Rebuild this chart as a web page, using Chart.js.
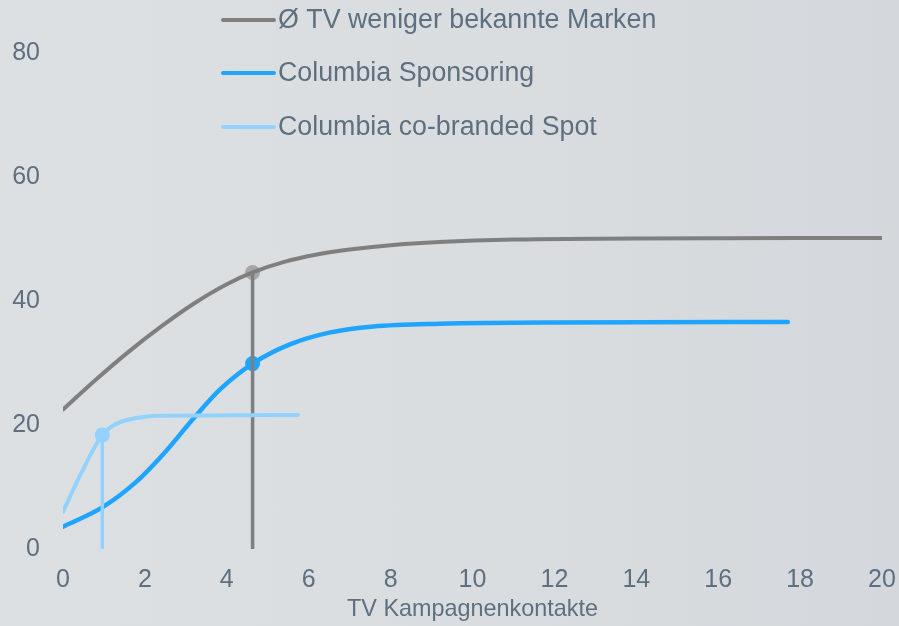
<!DOCTYPE html>
<html>
<head>
<meta charset="utf-8">
<script src="https://cdn.jsdelivr.net/npm/chart.js@4/dist/chart.umd.min.js"></script>
<style>
  html, body { margin: 0; padding: 0; }
  body { width: 899px; height: 626px; background: linear-gradient(90deg, #dde0e3 0%, #d9dde0 55%, #d4d8dc 100%); }
  #wrap { width: 899px; height: 626px; position: relative; }
</style>
</head>
<body>
<div id="wrap"><canvas id="c" width="899" height="626"></canvas></div>
<script>
// ---- data ----
const seriesNames = ["Ø TV weniger bekannte Marken", "Columbia Sponsoring", "Columbia co-branded Spot"];
const grayX = [0, 0.8, 1.6, 2.4, 3.2, 4.0, 4.63, 5.4, 6.2, 7.0, 8.0, 9.2, 11, 14, 20];
const grayY = [22.5, 27.3, 31.8, 35.9, 39.6, 42.7, 44.6, 46.3, 47.5, 48.3, 49.0, 49.5, 49.9, 50.1, 50.15];
const blueX = [0, 0.98, 1.8, 2.53, 3.18, 3.83, 4.63, 5.54, 6.5, 7.58, 9.21, 12, 17.7];
const blueY = [3.6, 6.8, 10.9, 15.9, 21.0, 25.7, 29.9, 33.0, 34.9, 35.9, 36.35, 36.55, 36.6];
const lightX = [0, 0.42, 0.96, 1.25, 1.56, 2.37, 5.74];
const lightY = [6.0, 11.9, 18.4, 20.0, 20.8, 21.5, 21.6];
const markerX = [4.63, 4.63, 0.96];
const markerY = [44.6, 29.9, 18.4];
const xTicks = [0, 2, 4, 6, 8, 10, 12, 14, 16, 18, 20];
const yTicks = [0, 20, 40, 60, 80];
const xTitle = "TV Kampagnenkontakte";

const GRAY = "#7f7f7f", GRAY_DOT = "#a6a6a6", BLUE = "#1fa5ff", LIGHT = "#93d2ff";
const TEXT = "#5e6f7f";
const FONT = "'Liberation Sans', Arial, sans-serif";

const pts = (xs, ys) => xs.map((x, i) => ({ x: x, y: ys[i] }));

const curve = (label, xs, ys, color, w) => ({
  label: label, data: pts(xs, ys), borderColor: color, backgroundColor: color,
  borderWidth: w, pointRadius: 0, pointHoverRadius: 0, cubicInterpolationMode: 'monotone',
  borderCapStyle: 'round', borderJoinStyle: 'round', fill: false
});
const vline = (i, color) => ({
  label: '_v' + i, data: [{ x: markerX[i], y: 0 }, { x: markerX[i], y: markerY[i] }],
  borderColor: color, borderWidth: 3.5, pointRadius: 0, pointHoverRadius: 0, fill: false
});
const marker = (i, color) => ({
  label: '_m' + i, data: [{ x: markerX[i], y: markerY[i] }], showLine: false,
  pointRadius: 7.5, pointHoverRadius: 7.5, pointBackgroundColor: color, pointBorderWidth: 0, borderColor: color
});

const legendPlugin = {
  id: 'customLegend',
  afterDraw(chart) {
    const ctx = chart.ctx;
    const colors = [GRAY, BLUE, LIGHT];
    const ys = [20, 73, 127];
    ctx.save();
    ctx.font = "26.8px " + FONT;
    ctx.textBaseline = 'middle';
    ctx.fillStyle = TEXT;
    seriesNames.forEach((n, i) => {
      ctx.strokeStyle = colors[i];
      ctx.lineWidth = 4;
      ctx.lineCap = 'round';
      ctx.beginPath();
      ctx.moveTo(223, ys[i]);
      ctx.lineTo(274, ys[i]);
      ctx.stroke();
      ctx.fillText(n, 278, ys[i] + 1);
    });
    ctx.restore();
  }
};

new Chart(document.getElementById('c'), {
  type: 'line',
  data: {
    datasets: [
      curve(seriesNames[2], lightX, lightY, LIGHT, 4),
      vline(0, GRAY),
      vline(2, LIGHT),
      curve(seriesNames[0], grayX, grayY, GRAY, 4),
      curve(seriesNames[1], blueX, blueY, BLUE, 4.5),
      marker(0, GRAY_DOT),
      marker(1, BLUE),
      marker(2, LIGHT)
    ]
  },
  options: {
    responsive: false,
    animation: false,
    layout: { autoPadding: false, padding: { left: 12, right: 17, top: 53, bottom: 0 } },
    plugins: { legend: { display: false }, tooltip: { enabled: false } },
    scales: {
      x: {
        type: 'linear', min: 0, max: 20,
        afterBuildTicks: (s) => { s.ticks = xTicks.map(v => ({ value: v })); },
        afterFit: (s) => { s.height = 77; s.paddingRight = 0; s.paddingLeft = 0; },
        grid: { display: false, drawTicks: false }, border: { display: false },
        ticks: { color: TEXT, font: { family: FONT, size: 25 }, padding: 16, maxRotation: 0 },
        title: { display: true, text: xTitle, color: TEXT, font: { family: FONT, size: 23.4 }, padding: { top: 0, bottom: 2 } }
      },
      y: {
        type: 'linear', min: 0, max: 80,
        afterBuildTicks: (s) => { s.ticks = yTicks.map(v => ({ value: v })); },
        afterFit: (s) => { s.width = 51; },
        grid: { display: false, drawTicks: false }, border: { display: false },
        ticks: { color: TEXT, font: { family: FONT, size: 25 }, padding: 23 }
      }
    }
  },
  plugins: [legendPlugin]
});
</script>
</body>
</html>
